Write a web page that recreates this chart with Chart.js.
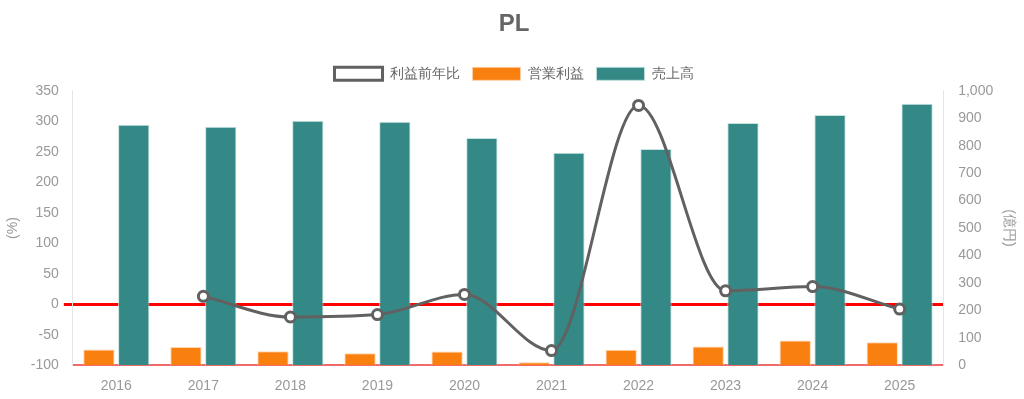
<!DOCTYPE html>
<html><head><meta charset="utf-8">
<script src="https://cdn.jsdelivr.net/npm/chart.js@4/dist/chart.umd.min.js"></script>
<style>html,body{margin:0;padding:0;background:#fff}#wrap{width:1024px;height:399px}</style>
</head><body><div id="wrap"><canvas id="c"></canvas></div>
<script>
const categories = ['2016','2017','2018','2019','2020','2021','2022','2023','2024','2025'];
const profitGrowth = [null, 13, -21, -17, 16, -76, 326, 22, 29, -8];
const operatingProfit = [57, 66, 51, 44, 50, 11, 56, 68, 90, 84];
const sales = [876, 869, 891, 887, 828, 774, 788, 883, 912, 953];

Chart.defaults.font.family = '"Liberation Sans", Arial, sans-serif';
Chart.defaults.color = '#999';
new Chart(document.getElementById('c'), {
  data: {
    labels: categories,
    datasets: [
      { type:'line', label:'利益前年比', data: profitGrowth, yAxisID:'y',
        borderColor:'#616161', backgroundColor:'#fff', borderWidth:3, cubicInterpolationMode:'monotone',
        pointRadius:5, pointHoverRadius:5, pointBorderWidth:3, pointBackgroundColor:'#fff', pointBorderColor:'#616161', order:0 },
      { type:'bar', label:'営業利益', data: operatingProfit, yAxisID:'y1',
        backgroundColor:'#f97f0e', borderColor:'rgba(255,210,170,0.9)', borderWidth:1, order:1 },
      { type:'bar', label:'売上高', data: sales, yAxisID:'y1',
        backgroundColor:'#348987', borderColor:'rgba(190,225,222,0.9)', borderWidth:1, order:2 }
    ]
  },
  options: {
    responsive:true, maintainAspectRatio:false, animation:false,
    layout:{ padding:{ left:3, right:-1, top:4, bottom:-9 } },
    plugins:{
      title:{ display:true, text:'PL', color:'#666', font:{ size:24, weight:'bold' }, padding:{ top:6, bottom:15 } },
      legend:{ labels:{ boxWidth:48, boxHeight:13, color:'#666', font:{ size:14 }, padding:13 } },
      tooltip:{ enabled:false }
    },
    scales:{
      x:{ grid:{ display:false, drawTicks:false }, border:{ color:'#f26b6b', width:2 },
          ticks:{ color:'#999', font:{ size:14 }, padding:13 } },
      y:{ position:'left', min:-100, max:350, afterBuildTicks:(s)=>{ s.ticks=[]; for(let v=-100; v<=350; v+=50) s.ticks.push({value:v}); },
          grid:{ color:(ctx)=> ctx.tick && ctx.tick.value===0 ? '#ff0000' : 'rgba(0,0,0,0)', lineWidth:(ctx)=> ctx.tick && ctx.tick.value===0 ? 3 : 1, tickLength:9 },
          border:{ color:'#e6e6e6' },
          ticks:{ color:'#999', font:{ size:14 }, padding:5 },
          title:{ display:true, text:'(%)', color:'#999', font:{ size:14 }, padding:{ top:2, bottom:4 } } },
      y1:{ position:'right', min:0, max:1000, grid:{ display:false },
          border:{ color:'#e6e6e6' },
          ticks:{ stepSize:100, color:'#999', font:{ size:14 }, padding:7,
                  callback:(v)=> v.toLocaleString('en-US') },
          title:{ display:true, text:'(億円)', color:'#999', font:{ size:14 }, padding:{ top:8, bottom:0 } } }
    }
  }
});
</script></body></html>
